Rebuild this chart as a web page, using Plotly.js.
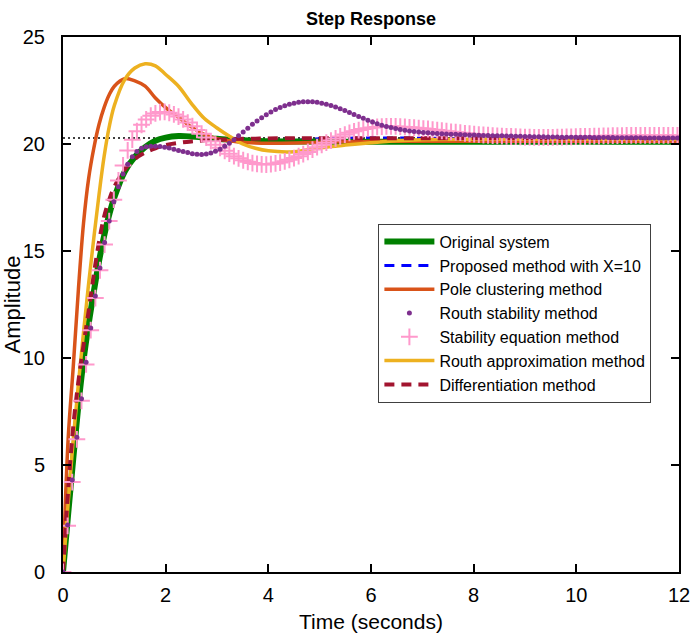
<!DOCTYPE html>
<html>
<head>
<meta charset="utf-8">
<script src="https://cdn.plot.ly/plotly-3.0.1.min.js"></script>
<style>html,body{margin:0;padding:0;background:#fff;}#chart{width:690px;height:637px;}</style>
</head>
<body>
<div id="chart"></div>
<script>
// ---- data ----
const tLine = [0,0.1,0.2,0.3,0.4,0.5,0.6,0.7,0.8,0.9,1.0,1.2,1.4,1.6,1.8,2.0,2.25,2.5,2.75,3.0,3.25,3.5,3.75,4.0,4.5,5.0,5.5,6.0,6.5,7.0,8.0,9.0,10.0,11.0,12.0];
const original = [0,2.7,5.3,7.8,9.9,11.6,13.1,14.5,15.7,16.7,17.5,18.7,19.4,19.85,20.15,20.3,20.37,20.35,20.3,20.24,20.2,20.17,20.15,20.13,20.12,20.11,20.1,20.1,20.1,20.1,20.1,20.1,20.1,20.1,20.1];
const proposed = [0,2.9,5.6,8.1,10.2,11.9,13.4,14.8,15.9,16.9,17.7,18.8,19.5,19.9,20.15,20.28,20.33,20.32,20.28,20.24,20.2,20.17,20.15,20.14,20.17,20.24,20.27,20.28,20.28,20.27,20.24,20.18,20.15,20.14,20.13];
const poleClustering = [0,6.2,9.6,13.2,16.3,18.4,19.8,20.9,21.7,22.3,22.7,23.05,22.95,22.7,22.15,21.7,21.25,20.8,20.45,20.25,20.15,20.08,20.05,20.04,20.05,20.08,20.1,20.12,20.13,20.13,20.13,20.13,20.13,20.13,20.13];
const routhApprox = [0,3.2,6.2,8.8,11.2,13.5,15.6,17.6,19.4,20.8,21.8,23.0,23.55,23.75,23.65,23.25,22.7,21.9,21.2,20.75,20.35,20.0,19.8,19.68,19.64,19.82,19.95,20.06,20.15,20.2,20.22,20.22,20.22,20.22,20.22];
const differentiation = [0,3.8,6.8,8.9,10.6,12.2,13.9,15.4,16.6,17.4,18.0,18.8,19.3,19.6,19.8,19.95,20.05,20.12,20.17,20.2,20.22,20.24,20.25,20.26,20.27,20.27,20.27,20.27,20.27,20.27,20.27,20.27,20.27,20.27,20.27];

// marker series sampled every DT seconds starting at 0
const DT = 0.09;
const routhStability = [
0,2.2,4.3,6.3,8.1,9.8,11.4,12.9,14.2,15.4,
16.4,17.3,18.0,18.6,19.05,19.4,19.65,19.8,19.87,19.9,
19.9,19.88,19.85,19.81,19.76,19.7,19.65,19.6,19.55,19.52,
19.51,19.53,19.58,19.66,19.76,19.89,20.03,20.2,20.38,20.56,
20.74,20.92,21.08,21.23,21.37,21.5,21.61,21.71,21.79,21.86,
21.91,21.95,21.97,21.98,21.97,21.95,21.91,21.86,21.8,21.73,
21.65,21.56,21.47,21.38,21.29,21.2,21.11,21.03,20.95,20.88,
20.82,20.77,20.72,20.68,20.64,20.61,20.58,20.56,20.54,20.52,
20.5,20.49,20.48,20.47,20.46,20.45,20.44,20.43,20.42,20.42,
20.41,20.4,20.4,20.39,20.38,20.38,20.37,20.37,20.36,20.36,
20.35,20.35,20.34,20.34,20.34,20.33,20.33,20.33,20.32,20.32,
20.32,20.31,20.31,20.31,20.31,20.3,20.3,20.3,20.3,20.3,
20.29,20.29,20.29,20.29,20.29,20.29,20.28,20.28,20.28,20.28,
20.28,20.28,20.28,20.28];
const stabilityEq = [
0,2.16,4.2,6.2,8.0,9.7,11.3,12.8,14.1,15.3,
16.4,17.4,18.3,19.0,19.7,20.2,20.6,20.9,21.15,21.32,
21.43,21.49,21.5,21.46,21.38,21.28,21.15,21.0,20.83,20.66,
20.48,20.3,20.13,19.97,19.82,19.68,19.55,19.43,19.33,19.24,
19.17,19.11,19.07,19.05,19.04,19.06,19.09,19.13,19.19,19.26,
19.34,19.43,19.53,19.63,19.74,19.85,19.96,20.06,20.16,20.26,
20.35,20.44,20.52,20.59,20.65,20.7,20.74,20.77,20.8,20.81,
20.82,20.82,20.82,20.81,20.8,20.78,20.76,20.74,20.72,20.7,
20.67,20.65,20.62,20.6,20.57,20.55,20.53,20.5,20.48,20.46,
20.44,20.42,20.41,20.39,20.38,20.37,20.36,20.35,20.34,20.33,
20.32,20.32,20.31,20.31,20.31,20.31,20.31,20.32,20.32,20.33,
20.33,20.34,20.35,20.35,20.36,20.37,20.37,20.38,20.38,20.39,
20.39,20.39,20.4,20.4,20.4,20.4,20.4,20.4,20.4,20.4,
20.4,20.4,20.4,20.4];

const steadyT = [0, 12];
const steadyY = [20.28, 20.28];

const names = ['Original system','Proposed method with X=10','Pole clustering method','Routh stability method','Stability equation method','Routh approximation method','Differentiation method'];
const xTicks = [0,2,4,6,8,10,12];
const yTicks = [0,5,10,15,20,25];

const FONT = 'Liberation Sans, Arial, Helvetica, sans-serif';

const traces = [
  {x: steadyT, y: steadyY, mode:'lines', line:{color:'#000', width:1.5, dash:'2px,3px'}, showlegend:false, hoverinfo:'skip'},
  {x: tLine, y: proposed, name: names[1], legendrank: 2, mode:'lines', line:{color:'#0000FF', width:3, dash:'10px,7px', shape:'spline'}},
  {x: tLine, y: original, name: names[0], legendrank: 1, mode:'lines', line:{color:'#008000', width:6, shape:'spline'}},
  {x: tLine, y: poleClustering, name: names[2], legendrank: 3, mode:'lines', line:{color:'#D95319', width:3.5, shape:'spline'}},
  {x: tLine, y: routhApprox, name: names[5], legendrank: 6, mode:'lines', line:{color:'#EDB120', width:3.5, shape:'spline'}},
  {x: tLine, y: differentiation, name: names[6], legendrank: 7, mode:'lines', line:{color:'#A2142F', width:4, dash:'10px,7px', shape:'spline'}},
  {x0: 0, dx: DT, y: stabilityEq, name: names[4], legendrank: 5, mode:'markers', marker:{symbol:'cross-thin', size:12, color:'#FF99CC', line:{color:'#FF99CC', width:2}}},
  {x0: 0, dx: DT, y: routhStability, name: names[3], legendrank: 4, mode:'markers', marker:{symbol:'circle', size:5, color:'#7E2F8E', line:{width:0}}}
];

const axisCommon = {
  showline:true, linecolor:'#000', linewidth:2, mirror:'ticks',
  ticks:'inside', ticklen:8, tickwidth:2, tickcolor:'#000',
  showgrid:false, zeroline:false, ticklabeloverflow:'allow',
  tickfont:{family:FONT, size:20, color:'#000'}
};

const layout = {
  width:690, height:637,
  margin:{l:63, r:11, t:37, b:65},
  paper_bgcolor:'#fff', plot_bgcolor:'#fff',
  showlegend:true,
  title:{text:'<b>Step Response</b>', font:{family:FONT, size:18, color:'#000'}, x:0.5, xref:'paper', y:1-19/637, yref:'container', yanchor:'middle'},
  xaxis:Object.assign({}, axisCommon, {range:[0,12], tickvals:xTicks, ticktext:xTicks.map(String), ticklabelstandoff:4,
    title:{text:'Time (seconds)', font:{family:FONT, size:21, color:'#000'}, standoff:9}}),
  yaxis:Object.assign({}, axisCommon, {range:[0,25], tickvals:yTicks, ticktext:yTicks.map(String), ticklabelstandoff:12,
    title:{text:'Amplitude', font:{family:FONT, size:22, color:'#000'}, standoff:11}}),
  legend:{x:0.512, y:0.651, xanchor:'left', yanchor:'top', bgcolor:'#fff', bordercolor:'#404040', borderwidth:1,
    font:{family:FONT, size:16, color:'#000'}, itemwidth:50, tracegroupgap:0}
};

Plotly.newPlot('chart', traces, layout, {staticPlot:true, displayModeBar:false});
</script>
</body>
</html>
